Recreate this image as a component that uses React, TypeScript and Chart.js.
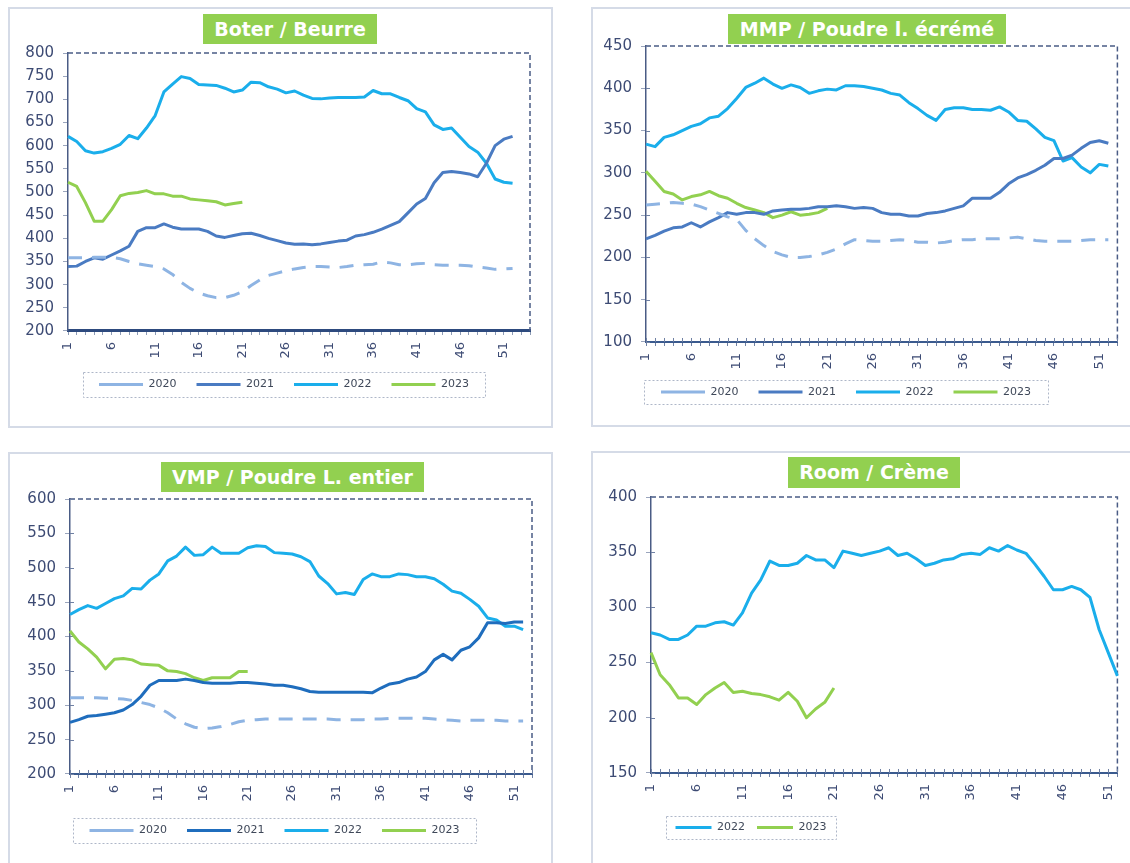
import React, { useEffect, useRef } from 'react';
import { Chart, registerables } from 'chart.js';

Chart.register(...registerables);

// ---------- categories & tick labels ----------
const WEEKS = [
  '1', '2', '3', '4', '5', '6', '7', '8', '9', '10',
  '11', '12', '13', '14', '15', '16', '17', '18', '19', '20',
  '21', '22', '23', '24', '25', '26', '27', '28', '29', '30',
  '31', '32', '33', '34', '35', '36', '37', '38', '39', '40',
  '41', '42', '43', '44', '45', '46', '47', '48', '49', '50',
  '51', '52', '53', '54',
];
const X_TICK_LABELS = ['1', '6', '11', '16', '21', '26', '31', '36', '41', '46', '51'];
const YEAR_LABELS = ['2020', '2021', '2022', '2023'];

// ---------- Boter / Beurre ----------
const boter2020 = [358, 358, 358, 359, 359, 359, 356, 350, 345, 342, 339, 334, 322, 305, 292, 282, 276, 272, 272, 277, 285, 298, 310, 320, 325, 330, 334, 337, 339, 339, 338, 337, 339, 342, 343, 344, 349, 347, 343, 343, 345, 346, 343, 342, 342, 342, 341, 338, 336, 333, 334, 335];
const boter2021 = [339, 340, 350, 358, 355, 364, 373, 383, 415, 423, 423, 431, 424, 420, 420, 420, 415, 405, 402, 406, 410, 411, 406, 400, 395, 390, 387, 388, 386, 388, 391, 394, 396, 405, 408, 413, 420, 428, 436, 455, 474, 486, 520, 542, 544, 542, 539, 533, 562, 600, 614, 620];
const boter2022 = [620, 609, 589, 584, 587, 594, 603, 622, 615, 638, 665, 716, 733, 749, 745, 732, 731, 730, 724, 716, 720, 737, 736, 727, 722, 714, 718, 709, 702, 701, 703, 704, 704, 704, 705, 719, 712, 712, 704, 697, 680, 673, 645, 635, 638, 618, 598, 586, 562, 528, 521, 519];
const boter2023 = [521, 512, 477, 437, 437, 462, 492, 497, 499, 503, 496, 496, 491, 491, 485, 483, 481, 479, 472, 475, 478];

// ---------- MMP / Poudre l. écrémé ----------
const mmp2020 = [262, 263, 264, 265, 264, 263, 260, 256, 252, 248, 245, 232, 222, 214, 207, 203, 200, 200, 201, 203, 206, 210, 216, 221, 220, 219, 219, 220, 221, 220, 218, 218, 217, 218, 220, 221, 221, 222, 222, 222, 223, 224, 222, 220, 219, 219, 219, 219, 220, 221, 221, 221];
const mmp2021 = [222, 226, 231, 235, 236, 241, 236, 242, 247, 253, 251, 253, 253, 251, 255, 256, 257, 257, 258, 260, 260, 261, 260, 258, 259, 258, 253, 251, 251, 249, 249, 252, 253, 255, 258, 261, 270, 270, 270, 277, 287, 294, 298, 303, 309, 317, 317, 321, 329, 336, 338, 335];
const mmp2022 = [334, 331, 342, 345, 350, 355, 358, 365, 367, 376, 388, 401, 406, 412, 405, 400, 404, 401, 394, 397, 399, 398, 403, 403, 402, 400, 398, 394, 392, 383, 376, 368, 362, 375, 377, 377, 375, 375, 374, 378, 372, 362, 361, 352, 342, 338, 314, 318, 307, 300, 310, 308];
const mmp2023 = [302, 290, 278, 275, 268, 272, 274, 278, 273, 270, 264, 259, 256, 253, 247, 250, 254, 250, 251, 253, 258];

// ---------- VMP / Poudre L. entier ----------
const vmp2020 = [311, 311, 311, 311, 310, 310, 309, 307, 304, 301, 296, 289, 280, 273, 268, 266, 267, 269, 272, 276, 278, 279, 280, 280, 280, 280, 280, 280, 280, 280, 279, 279, 279, 279, 280, 280, 281, 281, 281, 281, 281, 280, 279, 278, 277, 278, 278, 278, 278, 277, 277, 277];
const vmp2021 = [275, 279, 284, 285, 287, 289, 293, 301, 313, 329, 336, 336, 336, 338, 336, 333, 332, 332, 332, 333, 333, 332, 331, 329, 329, 327, 324, 320, 319, 319, 319, 319, 319, 319, 318, 325, 331, 333, 338, 341, 349, 366, 374, 366, 380, 385, 398, 420, 420, 419, 421, 421];
const vmp2022 = [432, 439, 445, 441, 448, 455, 459, 470, 469, 482, 491, 510, 517, 530, 518, 519, 530, 521, 521, 521, 529, 532, 531, 522, 521, 520, 516, 509, 488, 477, 462, 464, 461, 483, 491, 487, 487, 491, 490, 487, 487, 484, 476, 466, 463, 454, 444, 427, 424, 415, 415, 410];
const vmp2023 = [408, 392, 382, 370, 353, 367, 368, 366, 360, 359, 358, 350, 349, 346, 340, 336, 340, 340, 340, 349, 349];

// ---------- Room / Crème ----------
const room2022 = [277, 275, 271, 271, 275, 283, 283, 286, 287, 284, 295, 313, 325, 342, 338, 338, 340, 347, 343, 343, 336, 351, 349, 347, 349, 351, 354, 347, 349, 344, 338, 340, 343, 344, 348, 349, 348, 354, 351, 356, 352, 349, 339, 328, 316, 316, 319, 316, 309, 280, 259, 238];
const room2023 = [259, 239, 230, 218, 218, 212, 221, 227, 232, 223, 224, 222, 221, 219, 216, 223, 215, 200, 208, 214, 227];

// ---------- styles ----------
const C2020 = '#8eb4e3';
const C2021 = '#4a7bc2';
const C2021_DARK = '#1f6dbd';
const C2022 = '#1aaeeb';
const C2023 = '#92d050';
const FONT = '"DejaVu Sans", Verdana, sans-serif';
const AXIS_TEXT = '#3d4b74';
const FRAME_DASH = '#4a5c85';

type Series = { label: string; data: number[]; color: string; dashed?: boolean };
type Rect4 = [number, number, number, number];
type PanelDef = {
  title: string;
  frame: Rect4; // left, top, width, height
  titleBox: Rect4; // left, top, width, height
  canvas: Rect4; // left, top, width, height
  area: Rect4; // left, top, right, bottom (page coords)
  legendBox: Rect4; // left, top, right, bottom (page coords)
  legendSample: number;
  legendGap: number;
  categories: number;
  yMin: number;
  yMax: number;
  thickAxis: boolean;
  series: Series[];
};

const PANELS: PanelDef[] = [
  {
    title: 'Boter / Beurre',
    frame: [8, 7, 545, 421],
    titleBox: [203, 14, 174, 30],
    canvas: [8, 20, 548, 390],
    area: [68, 53, 530, 331],
    legendBox: [83, 372, 485, 397],
    legendSample: 44,
    legendGap: 20,
    categories: 54,
    yMin: 200,
    yMax: 800,
    thickAxis: true,
    series: [
      { label: YEAR_LABELS[0], data: boter2020, color: C2020, dashed: true },
      { label: YEAR_LABELS[1], data: boter2021, color: C2021 },
      { label: YEAR_LABELS[2], data: boter2022, color: C2022 },
      { label: YEAR_LABELS[3], data: boter2023, color: C2023 },
    ],
  },
  {
    title: 'MMP / Poudre l. écrémé',
    frame: [591, 7, 560, 420],
    titleBox: [728, 14, 278, 30],
    canvas: [580, 15, 560, 400],
    area: [646, 46, 1123, 342],
    legendBox: [644, 380, 1048, 404],
    legendSample: 44,
    legendGap: 20,
    categories: 53,
    yMin: 100,
    yMax: 450,
    thickAxis: false,
    series: [
      { label: YEAR_LABELS[0], data: mmp2020, color: C2020, dashed: true },
      { label: YEAR_LABELS[1], data: mmp2021, color: C2021 },
      { label: YEAR_LABELS[2], data: mmp2022, color: C2022 },
      { label: YEAR_LABELS[3], data: mmp2023, color: C2023 },
    ],
  },
  {
    title: 'VMP / Poudre L. entier',
    frame: [8, 452, 545, 430],
    titleBox: [161, 462, 263, 30],
    canvas: [8, 465, 548, 390],
    area: [70, 499, 532, 774],
    legendBox: [73, 818, 476, 843],
    legendSample: 44,
    legendGap: 20,
    categories: 53,
    yMin: 200,
    yMax: 600,
    thickAxis: false,
    series: [
      { label: YEAR_LABELS[0], data: vmp2020, color: C2020, dashed: true },
      { label: YEAR_LABELS[1], data: vmp2021, color: C2021_DARK },
      { label: YEAR_LABELS[2], data: vmp2022, color: C2022 },
      { label: YEAR_LABELS[3], data: vmp2023, color: C2023 },
    ],
  },
  {
    title: 'Room / Crème',
    frame: [591, 451, 560, 430],
    titleBox: [788, 457, 172, 31],
    canvas: [580, 465, 560, 390],
    area: [651, 497, 1118, 773],
    legendBox: [666, 816, 836, 839],
    legendSample: 36,
    legendGap: 12,
    categories: 52,
    yMin: 150,
    yMax: 400,
    thickAxis: false,
    series: [
      { label: YEAR_LABELS[2], data: room2022, color: C2022 },
      { label: YEAR_LABELS[3], data: room2023, color: C2023 },
    ],
  },
];

const LEGEND_FONT = 11;
const X_AXIS_H = 30;

function buildChart(canvas: HTMLCanvasElement, p: PanelDef): Chart {
  const [CL, CT, CW, CH] = p.canvas;
  const [AL, AT, AR, AB] = p.area;
  const lb = {
    l: p.legendBox[0] - CL,
    t: p.legendBox[1] - CT,
    r: p.legendBox[2] - CL,
    b: p.legendBox[3] - CT,
  };

  const framePlugin = {
    id: 'plotFrame',
    afterLayout(chart: any) {
      const lg = chart.legend;
      if (!lg) return;
      const extra = 60;
      lg.left = lb.l - extra;
      lg.right = lb.r + extra;
      lg.width = lg.right - lg.left;
      const cy = (lb.t + lb.b) / 2;
      lg.top = cy - LEGEND_FONT / 2 - p.legendGap;
      lg.bottom = cy + LEGEND_FONT / 2 + p.legendGap;
      lg.height = lg.bottom - lg.top;
    },
    beforeDatasetsDraw(chart: any) {
      const { ctx, chartArea, scales } = chart;
      const { left, top, right, bottom } = chartArea;
      ctx.save();
      ctx.strokeStyle = FRAME_DASH;
      ctx.lineWidth = 1.5;
      ctx.setLineDash([5, 3]);
      ctx.beginPath();
      ctx.moveTo(left, top);
      ctx.lineTo(right, top);
      ctx.lineTo(right, bottom);
      ctx.stroke();
      ctx.restore();
      if (!p.thickAxis) {
        // inner half of the "cross" tick marks
        ctx.save();
        ctx.strokeStyle = '#6f80a3';
        ctx.lineWidth = 1;
        ctx.beginPath();
        const xs = scales.x;
        for (let i = 0; i < xs.ticks.length; i++) {
          const x = Math.round(xs.getPixelForTick(i)) + 0.5;
          ctx.moveTo(x, bottom);
          ctx.lineTo(x, bottom - 4);
        }
        const ys = scales.y;
        for (let i = 0; i < ys.ticks.length; i++) {
          const y = Math.round(ys.getPixelForTick(i)) + 0.5;
          ctx.moveTo(left, y);
          ctx.lineTo(left + 4, y);
        }
        ctx.stroke();
        ctx.restore();
      }
    },
    afterDraw(chart: any) {
      const ctx = chart.ctx;
      ctx.save();
      ctx.strokeStyle = '#aeb7c8';
      ctx.lineWidth = 1;
      ctx.setLineDash([2, 2]);
      ctx.strokeRect(lb.l + 0.5, lb.t + 0.5, lb.r - lb.l, lb.b - lb.t);
      ctx.restore();
    },
  };

  const labels = WEEKS.slice(0, p.categories);

  return new Chart(canvas, {
    type: 'line',
    data: {
      labels,
      datasets: p.series.map((s) => ({
        label: s.label,
        data: s.data,
        borderColor: s.color,
        backgroundColor: s.color,
        borderWidth: 3,
        borderDash: s.dashed ? [14, 10] : [],
        borderJoinStyle: 'round',
        borderCapStyle: 'butt',
        pointRadius: 0,
        pointHoverRadius: 0,
        tension: 0,
        fill: false,
      })),
    },
    options: {
      responsive: false,
      animation: false,
      events: [],
      layout: {
        padding: {
          left: 0,
          top: AT - CT,
          right: CL + CW - AR,
          bottom: CT + CH - AB - X_AXIS_H,
        },
      },
      scales: {
        x: {
          type: 'category',
          offset: false,
          grid: {
            display: true,
            drawOnChartArea: false,
            drawTicks: true,
            tickLength: 4,
            color: p.thickAxis ? '#8c9ab4' : '#6f80a3',
            lineWidth: 1,
          },
          border: {
            display: true,
            color: p.thickAxis ? '#2d4a7e' : '#3a5a8e',
            width: p.thickAxis ? 3 : 2,
          },
          ticks: {
            autoSkip: false,
            maxRotation: 90,
            minRotation: 90,
            padding: 7,
            color: AXIS_TEXT,
            font: { family: FONT, size: 13 },
            callback: function (this: any, value: any) {
              const lab = this.getLabelForValue(value);
              return X_TICK_LABELS.includes(lab) ? lab : '';
            },
          },
          afterFit: (s: any) => {
            s.height = X_AXIS_H;
          },
        },
        y: {
          min: p.yMin,
          max: p.yMax,
          ticks: {
            stepSize: 50,
            padding: 9,
            color: AXIS_TEXT,
            font: { family: FONT, size: 15 },
          },
          grid: {
            display: true,
            drawOnChartArea: false,
            drawTicks: true,
            tickLength: 5,
            color: '#9aa5bd',
          },
          border: { display: true, dash: [5, 3], color: FRAME_DASH, width: 1.5 },
          afterFit: (s: any) => {
            s.width = AL - CL;
          },
        },
      },
      plugins: {
        legend: {
          display: true,
          position: 'bottom',
          maxHeight: 0.01,
          labels: {
            usePointStyle: true,
            pointStyle: 'line',
            pointStyleWidth: p.legendSample,
            padding: p.legendGap,
            color: '#3f4859',
            font: { family: FONT, size: LEGEND_FONT },
          },
        },
        tooltip: { enabled: false },
        title: { display: false },
      },
    } as any,
    plugins: [framePlugin as any],
  });
}

function Panel({ p }: { p: PanelDef }) {
  const ref = useRef<HTMLCanvasElement | null>(null);
  useEffect(() => {
    if (!ref.current) return;
    const chart = buildChart(ref.current, p);
    return () => chart.destroy();
  }, [p]);
  const [CL, CT, CW, CH] = p.canvas;
  return (
    <canvas
      ref={ref}
      width={CW}
      height={CH}
      style={{ position: 'absolute', left: CL, top: CT, width: CW, height: CH }}
    />
  );
}

export default function App() {
  return (
    <div
      style={{
        position: 'absolute',
        left: 0,
        top: 0,
        width: 1130,
        height: 863,
        overflow: 'hidden',
        background: '#ffffff',
      }}
    >
      {PANELS.map((p) => (
        <div
          key={'f' + p.title}
          style={{
            position: 'absolute',
            left: p.frame[0],
            top: p.frame[1],
            width: p.frame[2],
            height: p.frame[3],
            border: '2px solid #d5dbe7',
            boxSizing: 'border-box',
          }}
        />
      ))}
      {PANELS.map((p) => (
        <Panel key={'c' + p.title} p={p} />
      ))}
      {PANELS.map((p) => (
        <div
          key={'t' + p.title}
          style={{
            position: 'absolute',
            left: p.titleBox[0],
            top: p.titleBox[1],
            width: p.titleBox[2],
            height: p.titleBox[3],
            lineHeight: p.titleBox[3] + 'px',
            background: '#92d050',
            color: '#ffffff',
            fontFamily: FONT,
            fontWeight: 'bold',
            fontSize: 19,
            textAlign: 'center',
            whiteSpace: 'nowrap',
          }}
        >
          {p.title}
        </div>
      ))}
    </div>
  );
}
